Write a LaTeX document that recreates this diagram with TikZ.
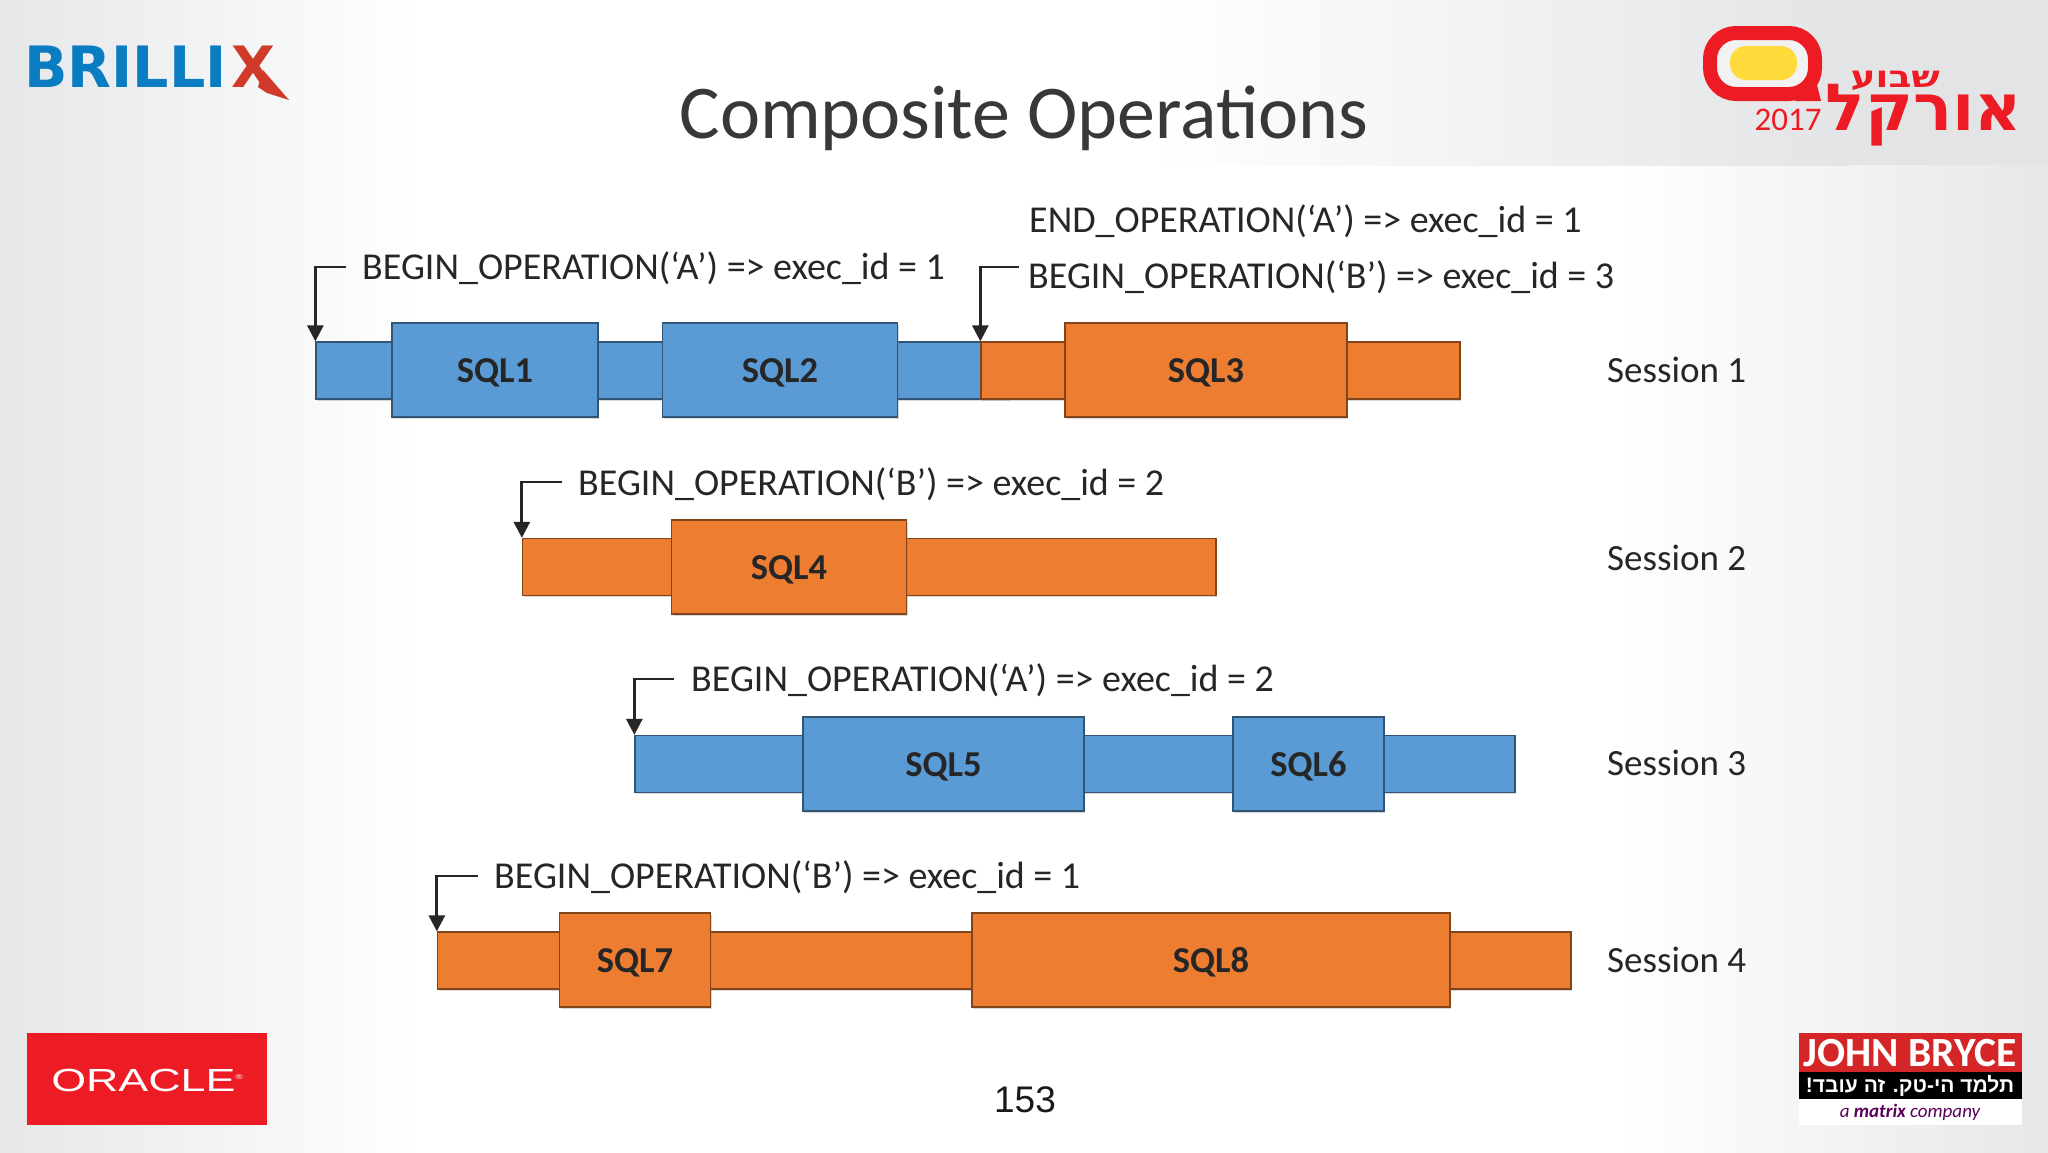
\documentclass[tikz,border=0pt]{standalone}
\usepackage{fontspec}
\setmainfont{Carlito}
\newfontfamily\arialfont{Liberation Sans}
\newfontfamily\hebfont[Script=Hebrew]{Liberation Sans}
\newfontfamily\brandfont[Script=Hebrew]{DejaVu Sans}
\TeXXeTstate=1
\usetikzlibrary{arrows.meta, shadows}
\definecolor{opblue}{HTML}{5B9BD5}
\definecolor{oporange}{HTML}{ED7D31}
\definecolor{logored}{HTML}{ED1C24}
\definecolor{brilblue}{HTML}{0A7CC1}
\definecolor{brilred}{HTML}{CF3A2B}
\definecolor{bandgray}{HTML}{E3E4E6}
\definecolor{sidegray}{HTML}{E6E7E9}
\definecolor{pillyellow}{HTML}{FFDC3C}
\tikzset{
    softshadow/.style={drop shadow={opacity=.3, shadow xshift=1pt, shadow yshift=-1.5pt}},
    blubar/.style={draw=black!45!opblue, fill=opblue, line width=1.3pt, inner sep=0pt, softshadow},
    orgbar/.style={draw=black!45!oporange, fill=oporange, line width=1.3pt, inner sep=0pt, softshadow},
    sqltext/.style={font=\fontsize{36.5}{36.5}\selectfont\bfseries, text=black!85, text height=25.5pt, text depth=0pt},
    oplabel/.style={anchor=west, inner sep=0pt, font=\fontsize{38}{38}\selectfont, text=black!85},
    sesslabel/.style={anchor=west, inner sep=0pt, font=\fontsize{37}{37}\selectfont, text=black!85},
    callout/.style={draw=black!85, line width=2.8pt, -{Triangle[width=16pt,length=16pt]}},
}
\begin{document}
\begin{tikzpicture}[x=1pt, y=-1pt]
    \useasboundingbox (0, 0) rectangle (2048, 1152);
    % background
    \fill[white] (0, 0) rectangle (2048, 1152);
    \shade[left color=sidegray, right color=white] (0, 0) rectangle (420, 1152);
    \shade[left color=white, right color=sidegray] (1620, 0) rectangle (2048, 1152);
    \shade[left color=white, right color=bandgray] (1150, 0) rectangle (1850, 165);
    \fill[bandgray] (1850, 0) rectangle (2048, 165);
    \node[font=\fontsize{76}{76}\selectfont, text=black!78, inner sep=0pt] (title) at (1024, 118) {Composite Operations};
    \node[font=\arialfont\fontsize{37}{37}\selectfont, text=black!90, inner sep=0pt] (pageno) at (1025, 1100) {153};

    % session 1
    \node[blubar, minimum width=693, minimum height=57] (barA) at (662.5, 370.5) {};
    \node[orgbar, minimum width=479, minimum height=57] (barB) at (1220.5, 370.5) {};
    \node[blubar, minimum width=206, minimum height=94, sqltext] (sqlA) at (495, 370) {SQL1};
    \node[blubar, minimum width=235, minimum height=94, sqltext] (sqlB) at (780, 370) {SQL2};
    \node[orgbar, minimum width=282, minimum height=94, sqltext] (sqlC) at (1206, 370) {SQL3};
    \node[sesslabel] (sessA) at (1607, 370) {Session 1};
    \node[oplabel] (opA) at (362, 268) {BEGIN\_OPERATION(‘A’) => exec\_id = 1};
    \node[oplabel] (opE) at (1029, 221) {END\_OPERATION(‘A’) => exec\_id = 1};
    \node[oplabel] (opB) at (1028, 277) {BEGIN\_OPERATION(‘B’) => exec\_id = 3};
    \coordinate (tailA) at (346, 267);
    \coordinate (tailB) at (1019, 267);
    \draw[callout] (tailA) -| (barA.north west);
    \draw[callout] (tailB) -| (barB.north west);

    % session 2
    \node[orgbar, minimum width=693.5, minimum height=57] (barC) at (869.25, 567) {};
    \node[orgbar, minimum width=235, minimum height=94, sqltext] (sqlD) at (789, 567) {SQL4};
    \node[sesslabel] (sessB) at (1607, 558) {Session 2};
    \node[oplabel] (opC) at (578, 484) {BEGIN\_OPERATION(‘B’) => exec\_id = 2};
    \coordinate (tailC) at (562, 482);
    \draw[callout] (tailC) -| (barC.north west);

    % session 3
    \node[blubar, minimum width=880, minimum height=57] (barD) at (1075, 764) {};
    \node[blubar, minimum width=281, minimum height=94, sqltext] (sqlE) at (943.5, 764) {SQL5};
    \node[blubar, minimum width=151, minimum height=94, sqltext] (sqlF) at (1308.5, 764) {SQL6};
    \node[sesslabel] (sessC) at (1607, 763) {Session 3};
    \node[oplabel] (opD) at (691, 680) {BEGIN\_OPERATION(‘A’) => exec\_id = 2};
    \coordinate (tailD) at (674, 679);
    \draw[callout] (tailD) -| (barD.north west);

    % session 4
    \node[orgbar, minimum width=1133.5, minimum height=57] (barF) at (1004.25, 960.5) {};
    \node[orgbar, minimum width=151, minimum height=94, sqltext] (sqlG) at (635, 960) {SQL7};
    \node[orgbar, minimum width=478, minimum height=94, sqltext] (sqlH) at (1211, 960) {SQL8};
    \node[sesslabel] (sessD) at (1607, 960) {Session 4};
    \node[oplabel] (opF) at (494, 877) {BEGIN\_OPERATION(‘B’) => exec\_id = 1};
    \coordinate (tailF) at (478, 876);
    \draw[callout] (tailF) -| (barF.north west);

    % brillix logo
    \node[anchor=base west, inner sep=0pt, text=brilblue, font=\brandfont\fontsize{57}{57}\selectfont\bfseries] (brillix) at (24, 87) {BRILLI};
    \node[anchor=base west, inner sep=0pt, text=brilred, font=\brandfont\fontsize{57}{57}\selectfont\bfseries] (brillx) at (231, 87) {X};
    \fill[brilred] (263, 70) -- (289, 100) -- (267, 93) -- (258, 87) -- cycle;

    % oracle week logo
    \draw[logored, line width=14pt, rounded corners=26pt, fill=black!5] (1710, 33) rectangle (1815, 94);
    \fill[logored] (1795, 101) -- (1821, 101) -- (1817, 85) -- (1808, 88) -- (1800, 94) -- cycle;
    \fill[pillyellow, rounded corners=16pt] (1730, 46) rectangle (1797, 80);
    \node[inner sep=0pt, text=logored, font=\fontsize{33}{33}\selectfont] (year) at (1788, 120) {2017};
    \node[anchor=base east, inner sep=0pt, text=logored, font=\brandfont\fontsize{30}{30}\selectfont\bfseries] (hebA) at (1940, 87) {\scalebox{1.25}[1]{\beginR שבוע\endR}};
    \node[anchor=base east, inner sep=0pt, text=logored, font=\brandfont\fontsize{65}{65}\selectfont\bfseries] (hebB) at (2022, 130) {\beginR אורקל\endR};

    % oracle logo
    \fill[logored] (27, 1033) rectangle (267, 1125);
    \node[inner sep=0pt, text=white, font=\arialfont\fontsize{32}{32}\selectfont] (oracle) at (147, 1080) {\scalebox{1.4}[1]{ORACLE\raisebox{12pt}{\fontsize{7}{7}\selectfont ®}}};

    % john bryce logo
    \fill[red!80!black!85!white] (1799, 1033) rectangle (2022, 1072);
    \fill[black] (1799, 1072) rectangle (2022, 1099);
    \fill[white] (1799, 1099) rectangle (2022, 1125);
    \node[inner sep=0pt, text=white, font=\fontsize{41.5}{41.5}\selectfont\bfseries] (johnb) at (1910, 1053) {JOHN BRYCE};
    \node[inner sep=0pt, text=white, font=\hebfont\fontsize{21}{21}\selectfont\bfseries] (slogan) at (1910, 1086) {\beginR תלמד הי-טק. זה עובד!\endR};
    \node[inner sep=0pt, text=violet!70!black, font=\fontsize{19}{19}\selectfont\itshape] (matrix) at (1910, 1112) {a \textbf{matrix} company};
\end{tikzpicture}
\end{document}
